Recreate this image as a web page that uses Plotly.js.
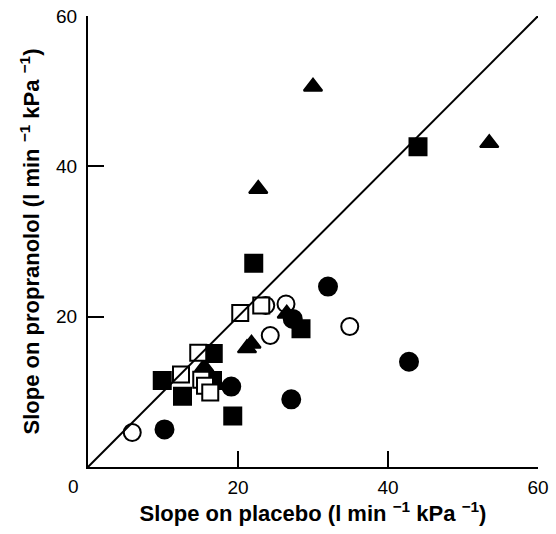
<!DOCTYPE html>
<html>
<head>
<meta charset="utf-8">
<script src="https://cdn.plot.ly/plotly-3.0.1.min.js"></script>
<style>
  html, body { margin: 0; padding: 0; background: #fff; }
  #chart { width: 556px; height: 534px; }
</style>
</head>
<body>
<div id="chart"></div>
<script>
// Data (slope on placebo, slope on propranolol)
const filledTriX = [30.0, 53.5, 22.7, 26.5, 21.8, 21.2, 15.5];
const filledTriY = [50.6, 43.1, 37.0, 20.4, 16.4, 15.8, 13.3];

const filledSqX = [44.0, 22.1, 28.4, 16.7, 16.6, 9.9, 12.6, 19.3];
const filledSqY = [42.6, 27.1, 18.4, 15.1, 11.5, 11.5, 9.4, 6.8];

const openSqX = [20.3, 23.1, 14.7, 12.4, 15.1, 15.6, 16.3];
const openSqY = [20.5, 21.5, 15.2, 12.3, 11.6, 10.8, 9.9];

const filledCircX = [32.0, 27.3, 42.8, 19.1, 27.1, 10.2];
const filledCircY = [24.0, 19.7, 14.0, 10.7, 9.0, 5.0];

const openCircX = [23.7, 26.4, 24.3, 34.9, 5.9];
const openCircY = [21.5, 21.7, 17.5, 18.7, 4.6];

const identityX = [0, 60];
const identityY = [0, 60];

const tickVals = [20, 40, 60];
const tickText = ['20', '40', '60'];

function pts(x, y, symbol, size, fill) {
  return {
    type: 'scatter', mode: 'markers', x: x, y: y, cliponaxis: false,
    hoverinfo: 'skip',
    marker: { symbol: symbol, size: size, color: fill, line: { color: '#000', width: 2 } }
  };
}

const traces = [
  pts(openCircX, openCircY, 'circle', 17, '#fff'),
  pts(filledCircX, filledCircY, 'circle', 18, '#000'),
  pts(filledTriX, filledTriY, 'triangle-up', 16, '#000'),
  pts(filledSqX, filledSqY, 'square', 17, '#000'),
  pts(openSqX, openSqY, 'square', 16, '#fff'),
  { type: 'scatter', mode: 'lines', x: identityX, y: identityY, cliponaxis: false,
    hoverinfo: 'skip', line: { color: '#000', width: 2 } }
];

const fam = 'Liberation Sans, Arial, sans-serif';

const layout = {
  width: 556, height: 534,
  margin: { l: 88, r: 18, t: 16, b: 67 },
  paper_bgcolor: '#fff', plot_bgcolor: '#fff',
  showlegend: false,
  font: { family: fam, color: '#000' },
  xaxis: {
    range: [0, 60], showgrid: false, zeroline: false,
    showline: true, linecolor: '#000', linewidth: 2,
    ticks: 'inside', ticklen: 16, tickwidth: 2, tickcolor: '#000',
    tickvals: tickVals, ticktext: tickText,
    tickfont: { family: fam, size: 19, color: '#000' },
    ticklabelstandoff: 2,
    title: { text: '<b>Slope on placebo (l min <sup>−1</sup> kPa <sup>−1</sup>)</b>',
             font: { family: fam, size: 22, color: '#000' }, standoff: 0 }
  },
  yaxis: {
    range: [0, 60], showgrid: false, zeroline: false,
    showline: true, linecolor: '#000', linewidth: 2,
    ticks: 'inside', ticklen: 16, tickwidth: 2, tickcolor: '#000',
    tickvals: tickVals, ticktext: tickText,
    tickfont: { family: fam, size: 19, color: '#000' },
    ticklabelstandoff: 5,
    title: { text: '<b>Slope on propranolol (l min <sup>−1</sup> kPa <sup>−1</sup>)</b>',
             font: { family: fam, size: 22, color: '#000' }, standoff: 10 }
  },
  annotations: [
    { text: '0', xref: 'x', yref: 'paper', x: 0, y: 0, xanchor: 'center', yanchor: 'top',
      xshift: -15, yshift: -7, showarrow: false,
      font: { family: fam, size: 19, color: '#000' } }
  ]
};

Plotly.newPlot('chart', traces, layout, { displayModeBar: false, staticPlot: true });
</script>
</body>
</html>
